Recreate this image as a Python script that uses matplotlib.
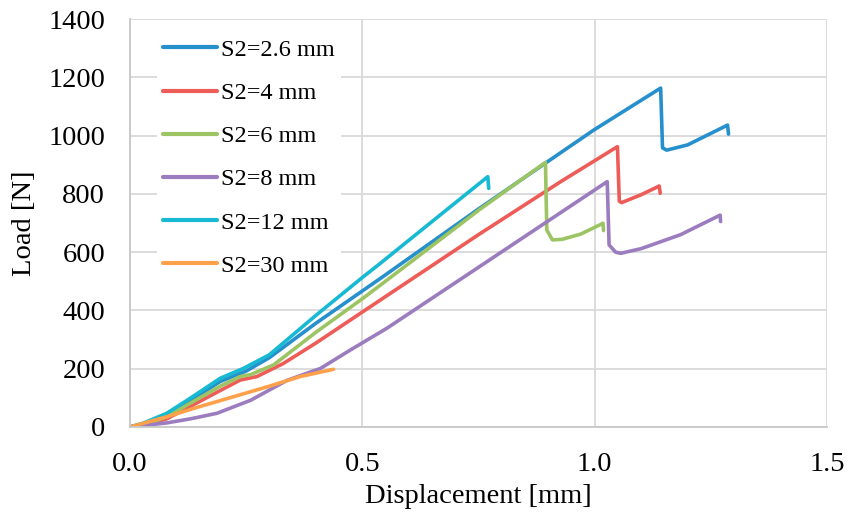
import numpy as np
import matplotlib
matplotlib.use("Agg")
import matplotlib.pyplot as plt

plt.rcParams['font.family'] = ['Liberation Serif', 'DejaVu Serif']

# S2 = 2.6 mm
x_26 = [0, 0.03, 0.079, 0.129, 0.194, 0.25, 0.30, 0.40, 0.539, 0.75, 0.998, 1.142, 1.146, 1.155, 1.20, 1.286, 1.288]
y_26 = [0, 12, 42, 90, 156, 192, 238, 356, 510, 748, 1019, 1163, 958, 950, 968, 1036, 1005]

# S2 = 4 mm
x_4 = [0, 0.04, 0.079, 0.129, 0.194, 0.237, 0.273, 0.330, 0.40, 0.539, 0.75, 0.927, 1.049, 1.053, 1.058, 1.10, 1.139, 1.141]
y_4 = [0, 10, 28, 70, 125, 161, 173, 218, 288, 436, 660, 842, 962, 775, 770, 797, 827, 802]

# S2 = 6 mm
x_6 = [0, 0.04, 0.079, 0.129, 0.194, 0.237, 0.26, 0.309, 0.40, 0.50, 0.539, 0.754, 0.894, 0.897, 0.909, 0.93, 0.97, 1.018, 1.019]
y_6 = [0, 12, 35, 81, 140, 173, 180, 213, 325, 440, 487, 748, 908, 676, 642, 644, 662, 699, 674]

# S2 = 8 mm
x_8 = [0, 0.079, 0.13, 0.187, 0.26, 0.338, 0.41, 0.474, 0.553, 0.75, 1.027, 1.031, 1.045, 1.056, 1.10, 1.185, 1.270, 1.271]
y_8 = [0, 14, 28, 47, 92, 160, 201, 264, 339, 548, 842, 625, 600, 596, 612, 660, 727, 705]

# S2 = 12 mm
x_12 = [0, 0.03, 0.079, 0.129, 0.194, 0.244, 0.30, 0.40, 0.50, 0.539, 0.65, 0.770, 0.772]
y_12 = [0, 14, 47, 98, 167, 201, 248, 383, 513, 562, 705, 859, 819]

# S2 = 30 mm
x_30 = [0, 0.079, 0.15, 0.223, 0.30, 0.366, 0.438]
y_30 = [0, 35, 70, 104, 140, 173, 198]

series = [
    ('S2=2.6 mm', x_26, y_26, '#2690CC'),
    ('S2=4 mm', x_4, y_4, '#EE5C58'),
    ('S2=6 mm', x_6, y_6, '#9DC462'),
    ('S2=8 mm', x_8, y_8, '#9B7DBF'),
    ('S2=12 mm', x_12, y_12, '#17BAD2'),
    ('S2=30 mm', x_30, y_30, '#FFA04A'),
]

fig = plt.figure(figsize=(8.47, 5.18), dpi=100)
ax = fig.add_axes([0.1535, 0.1757, 0.8229, 0.7876])

for label, xs, ys, c in series:
    ax.plot(xs, ys, color=c, linewidth=2.6, label=label, solid_capstyle='round', solid_joinstyle='round')

ax.set_xlim(0, 1.5)
ax.set_ylim(0, 1400)
ax.set_xticks([0, 0.5, 1.0, 1.5])
ax.set_xticklabels(['0.0', '0.5', '1.0', '1.5'])
ax.set_yticks(range(0, 1401, 200))
ax.grid(True, color='#d9d9d9', linewidth=1.3)
ax.set_axisbelow(True)
for s in ['top', 'right']:
    ax.spines[s].set_visible(False)
for s in ['left', 'bottom']:
    ax.spines[s].set_color('#c8c8c8')
    ax.spines[s].set_linewidth(1.3)
ax.tick_params(axis='both', length=0, labelsize=20.5)
ax.tick_params(axis='y', pad=18)
ax.tick_params(axis='x', pad=18)

ax.set_xlabel('Displacement [mm]', fontsize=20.5, labelpad=5)
ax.set_ylabel('Load [N]', fontsize=20.5, labelpad=8)

leg = ax.legend(loc='upper left', bbox_to_anchor=(0.039, 0.966), borderaxespad=0,
                borderpad=0.25, fontsize=17.5, handlelength=2.2, handletextpad=0.17,
                labelspacing=0.87, frameon=True, fancybox=False, framealpha=1,
                edgecolor='none', facecolor='white')
for line in leg.get_lines():
    line.set_linewidth(3)

fig.savefig('out.png', dpi=100)
